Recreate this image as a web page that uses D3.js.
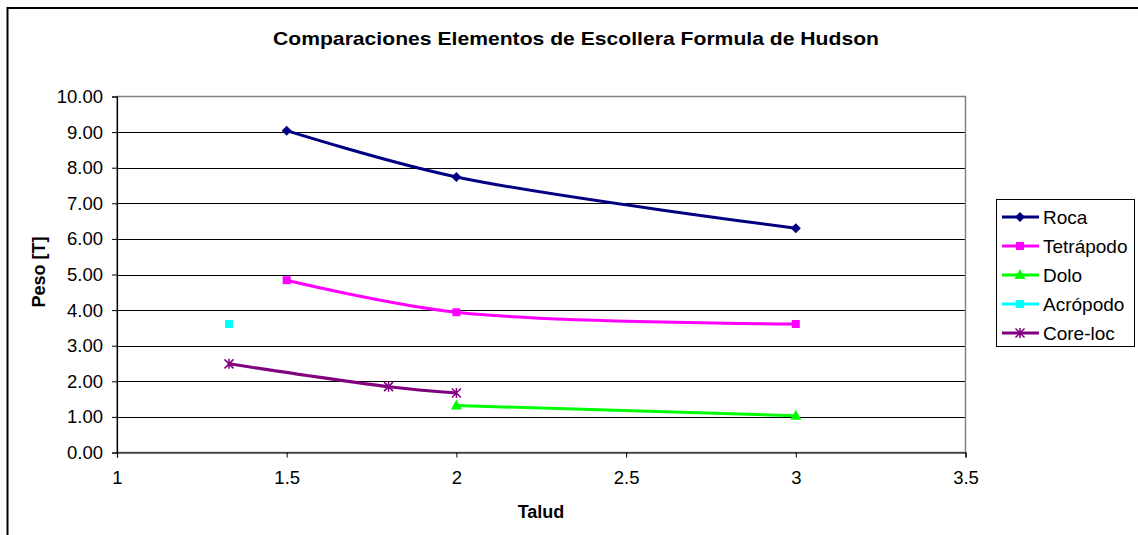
<!DOCTYPE html>
<html><head><meta charset="utf-8">
<script src="https://cdn.jsdelivr.net/npm/d3@7"></script>
<style>body{margin:0;background:#fff}svg{display:block}text{font-family:"Liberation Sans",Arial,sans-serif}</style>
</head><body><svg id="c" width="1138" height="535"></svg>
<script>
const title = "Comparaciones Elementos de Escollera Formula de Hudson";
const xLabel = "Talud";
const yLabel = "Peso [T]";
const xTicks = [1, 1.5, 2, 2.5, 3, 3.5];
const yTicks = [0,1,2,3,4,5,6,7,8,9,10];
const seriesNames = ["Roca","Tetrápodo","Dolo","Acrópodo","Core-loc"];
const seriesColors = ["#000080","#ff00ff","#00ff00","#00ffff","#800080"];
const seriesMarkers = ["diamond","square","triangle","square","asterisk"];
const rocaX = [1.5, 2, 3];      const rocaY = [9.04, 7.74, 6.30];
const tetraX = [1.5, 2, 3];     const tetraY = [4.84, 3.94, 3.61];
const doloX = [2, 3];           const doloY = [1.32, 1.03];
const acroX = [1.33];           const acroY = [3.61];
const coreX = [1.33, 1.8, 2];   const coreY = [2.49, 1.85, 1.67];
const seriesX = [rocaX, tetraX, doloX, acroX, coreX];
const seriesY = [rocaY, tetraY, doloY, acroY, coreY];

const svg = d3.select("#c");
svg.append("path").attr("d","M7.5,535 V8 H1138").attr("fill","none").attr("stroke","#000").attr("stroke-width",2);

const L=117, R=965.5, T=96.5, B=452.5;
const x = d3.scaleLinear().domain([1,3.5]).range([L,R]);
const y = d3.scaleLinear().domain([0,10]).range([B,T]);

svg.append("g").selectAll("line").data(yTicks.filter(d=>d>0&&d<10)).join("line")
  .attr("x1",L).attr("x2",R).attr("y1",d=>Math.round(y(d))+0.5).attr("y2",d=>Math.round(y(d))+0.5)
  .attr("stroke","#000").attr("stroke-width",1);
svg.append("rect").attr("x",L).attr("y",T).attr("width",R-L).attr("height",B-T)
  .attr("fill","none").attr("stroke","#808080").attr("stroke-width",1.5);

const yAxis = d3.axisLeft(y).tickValues(yTicks).tickFormat(d3.format(".2f")).tickSize(5).tickPadding(9);
const gy = svg.append("g").attr("transform",`translate(${L},0)`).call(yAxis);
const xAxis = d3.axisBottom(x).tickValues(xTicks).tickFormat(d=>String(d)).tickSize(5).tickPadding(13);
const gx = svg.append("g").attr("transform",`translate(0,${B})`).call(xAxis);
[gx,gy].forEach(g=>{
  g.select(".domain").attr("stroke","#000").attr("stroke-width",1.2);
  g.selectAll(".tick line").attr("stroke","#000");
  g.selectAll(".tick text").attr("fill","#000").style("font-size","18.5px").style("font-family","'Liberation Sans',Arial,sans-serif");
});

svg.append("text").attr("x",576).attr("y",45).attr("text-anchor","middle")
  .style("font-size","19px").style("font-weight","bold").attr("textLength",606).attr("lengthAdjust","spacingAndGlyphs").text(title);
svg.append("text").attr("x",541).attr("y",518).attr("text-anchor","middle")
  .style("font-size","18px").style("font-weight","bold").text(xLabel);
svg.append("text").attr("transform","translate(45,272) rotate(-90)").attr("text-anchor","middle")
  .style("font-size","18px").style("font-weight","bold").text(yLabel);

function marker(g, type, color, cx, cy){
  if(type==="diamond"){
    g.append("path").attr("d",`M${cx},${cy-5}L${cx+5},${cy}L${cx},${cy+5}L${cx-5},${cy}Z`).attr("fill",color);
  } else if(type==="square"){
    g.append("rect").attr("x",cx-4).attr("y",cy-4).attr("width",8).attr("height",8).attr("fill",color);
  } else if(type==="triangle"){
    g.append("path").attr("d",`M${cx},${cy-6}L${cx+5.5},${cy+4}L${cx-5.5},${cy+4}Z`).attr("fill",color);
  } else if(type==="asterisk"){
    const s=4.5;
    g.append("path").attr("d",`M${cx-s},${cy-s}L${cx+s},${cy+s}M${cx-s},${cy+s}L${cx+s},${cy-s}M${cx},${cy-s-0.5}L${cx},${cy+s+0.5}`)
      .attr("stroke",color).attr("stroke-width",1.5).attr("fill","none");
  }
}

const line = d3.line().x(d=>x(d[0])).y(d=>y(d[1])).curve(d3.curveCatmullRom.alpha(0.5));
seriesNames.forEach((n,i)=>{
  const pts = seriesX[i].map((v,j)=>[v, seriesY[i][j]]);
  const g = svg.append("g");
  if(pts.length>1) g.append("path").datum(pts).attr("d",line).attr("fill","none")
    .attr("stroke",seriesColors[i]).attr("stroke-width",3);
  pts.forEach(p=>marker(g, seriesMarkers[i], seriesColors[i], x(p[0]), y(p[1])));
});

const lg = svg.append("g");
lg.append("rect").attr("x",996.5).attr("y",199.5).attr("width",138).attr("height",147)
  .attr("fill","#fff").attr("stroke","#000").attr("stroke-width",1);
seriesNames.forEach((n,i)=>{
  const cy = 217 + i*29;
  lg.append("line").attr("x1",1002).attr("x2",1039).attr("y1",cy).attr("y2",cy)
    .attr("stroke",seriesColors[i]).attr("stroke-width",3);
  marker(lg, seriesMarkers[i], seriesColors[i], 1020, cy);
  lg.append("text").attr("x",1043).attr("y",cy+6.5).style("font-size","19px").attr("fill","#000").text(n);
});
</script></body></html>
